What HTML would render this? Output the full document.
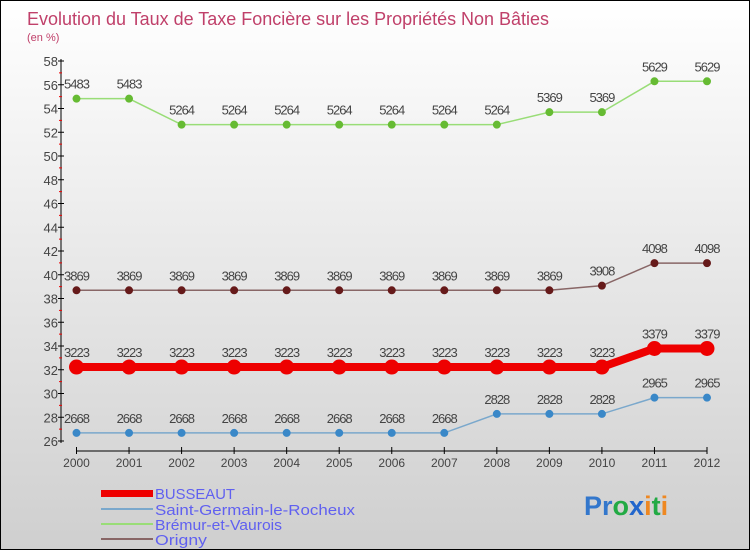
<!DOCTYPE html>
<html><head><meta charset="utf-8"><style>
body{margin:0;}
#c{width:748px;height:548px;border:1px solid #000;background:linear-gradient(#fff,#cfcfcf);position:relative;overflow:hidden;font-family:"Liberation Sans",sans-serif;}
</style></head><body>
<div id="c">
<svg id="s" width="748" height="548" style="position:absolute;left:0;top:0">
<text x="26" y="24" font-size="18" fill="#c0406a" textLength="522" lengthAdjust="spacingAndGlyphs">Evolution du Taux de Taxe Foncière sur les Propriétés Non Bâties</text>
<text x="26" y="40" font-size="11" fill="#c0406a">(en %)</text>
<g id="g"></g>
<g>
<rect x="100" y="489" width="52" height="7" fill="#e00"/>
<text x="154" y="498" font-size="15" fill="#6060f0" textLength="80" lengthAdjust="spacingAndGlyphs">BUSSEAUT</text>
<rect x="100" y="507" width="52" height="2" fill="#7aa8cc"/>
<text x="154" y="514" font-size="15" fill="#6060f0" textLength="200" lengthAdjust="spacingAndGlyphs">Saint-Germain-le-Rocheux</text>
<rect x="100" y="522" width="52" height="2" fill="#99dd77"/>
<text x="154" y="529" font-size="15" fill="#6060f0" textLength="127" lengthAdjust="spacingAndGlyphs">Brémur-et-Vaurois</text>
<rect x="100" y="537" width="52" height="2" fill="#886666"/>
<text x="154" y="544" font-size="15" fill="#6060f0" textLength="52" lengthAdjust="spacingAndGlyphs">Origny</text>
</g>
<text x="583" y="514" font-size="27" font-weight="bold"><tspan fill="#3377cc">Pr</tspan><tspan fill="#22aa44">o</tspan><tspan fill="#2266cc">x</tspan><tspan fill="#ee8822">i</tspan><tspan fill="#22aa44">t</tspan><tspan fill="#ee8822">i</tspan></text>
</svg>
</div>
<script>
const years=[2000,2001,2002,2003,2004,2005,2006,2007,2008,2009,2010,2011,2012];
const busseaut=[32.23,32.23,32.23,32.23,32.23,32.23,32.23,32.23,32.23,32.23,32.23,33.79,33.79];
const saintGermain=[26.68,26.68,26.68,26.68,26.68,26.68,26.68,26.68,28.28,28.28,28.28,29.65,29.65];
const bremur=[54.83,54.83,52.64,52.64,52.64,52.64,52.64,52.64,52.64,53.69,53.69,56.29,56.29];
const origny=[38.69,38.69,38.69,38.69,38.69,38.69,38.69,38.69,38.69,38.69,39.08,40.98,40.98];
const yTicks=[26,28,30,32,34,36,38,40,42,44,46,48,50,52,54,56,58];
const NS="http://www.w3.org/2000/svg";
const g=document.getElementById('g');
const X=i=>75.5+i*(706-75.5)/(years.length-1);
const Y=v=>440-(v-26)*(380/32);
function mk(t,a){const e=document.createElementNS(NS,t);for(const k in a)e.setAttribute(k,a[k]);g.appendChild(e);return e;}
let e=mk('line',{x1:60,y1:58,x2:60,y2:442,stroke:'#000'});


e=mk('line',{x1:75,y1:450,x2:706,y2:450,stroke:'#000'});


yTicks.forEach(v=>{
 const y=Y(v);
 let t=mk('line',{x1:57,y1:y,x2:63,y2:y,stroke:'#000'});
 
 
 if(v<58){let m=mk('line',{x1:58,y1:Y(v+1),x2:61,y2:Y(v+1),stroke:'#e00'});
 
 }
 let l=mk('text',{x:57,y:y+5,'font-size':13,fill:'#444','text-anchor':'end'});l.textContent=v;
 
 
});
years.forEach((yr,i)=>{
 let t=mk('line',{x1:X(i),y1:446,x2:X(i),y2:453,stroke:'#000'});
 
 
 let l=mk('text',{x:X(i),y:466,'font-size':12,fill:'#444','text-anchor':'middle'});l.textContent=yr;
 
 
});
function series(vals,name,col,dot,w,r){
 const pts=vals.map((v,i)=>X(i)+','+Y(v)).join(' ');
 let p=mk('polyline',{points:pts,fill:'none',stroke:col,'stroke-width':w});
 
 
 vals.forEach((v,i)=>{
  let c=mk('circle',{cx:X(i),cy:Y(v),r:r,fill:dot,stroke:dot});
  
  
  let t=mk('text',{x:X(i),y:Y(v)-10,'font-size':13,fill:'#444','text-anchor':'middle','letter-spacing':'-1'});
  t.textContent=v.toFixed(2).replace('.','');
  
  
 });
}
series(bremur,'bremur','#99dd77','#66bb33',1.5,3.5);
series(origny,'origny','#886666','#661a1a',1.5,3.5);
series(busseaut,'busseaut','#ee0000','#ee0000',8,7);
series(saintGermain,'saint-germain','#7aa8cc','#3a88c8',1.5,3.5);
</script>
</body></html>
